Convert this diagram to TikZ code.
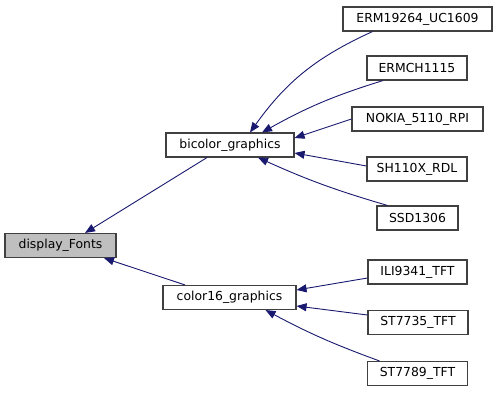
\documentclass[tikz,border=0pt]{standalone}
\usepackage{fontspec}
\setmainfont{DejaVu Sans}
\usetikzlibrary{arrows.meta}

\definecolor{edgeblue}{HTML}{191970}
\definecolor{basegray}{HTML}{BFBFBF}
\definecolor{boxline}{HTML}{404040}

\tikzset{
	cls/.style={draw=boxline, line width=1.1pt, fill=white, minimum height=24pt,
		inner sep=0pt, font=\fontsize{12.4}{15}\selectfont},
	inh/.style={edgeblue, line width=0.9pt, {Triangle[length=10pt, width=8pt]}-}
}

\begin{document}
\begin{tikzpicture}[x=1pt, y=-1pt]
	\useasboundingbox (0,0) rectangle (499,392);

	% classes
	\node[cls, fill=basegray, minimum width=111pt] (fonts) at (60.5,245.5) {display\_Fonts};
	\node[cls, minimum width=128pt] (bicolor) at (230,145) {bicolor\_graphics};
	\node[cls, minimum width=133pt] (color16) at (229.5,297.5) {color16\_graphics};

	\node[cls, minimum width=149pt] (erm) at (417.5,19) {ERM19264\_UC1609};
	\node[cls, minimum width=100pt] (ermch) at (417,68) {ERMCH1115};
	\node[cls, minimum width=131pt] (nokia) at (417.5,119) {NOKIA\_5110\_RPI};
	\node[cls, minimum width=100pt] (sh110x) at (417,169) {SH110X\_RDL};
	\node[cls, minimum width=81pt] (ssd) at (417.5,218) {SSD1306};

	\node[cls, minimum width=99pt] (ili) at (417.5,272) {ILI9341\_TFT};
	\node[cls, minimum width=100pt] (st7735) at (418,322.5) {ST7735\_TFT};
	\node[cls, minimum width=100pt] (st7789) at (417.5,373.5) {ST7789\_TFT};

	% inheritance
	\draw[inh] ([xshift=24.5pt]fonts.north) -- ([xshift=-23pt]bicolor.south);
	\draw[inh] ([xshift=43.5pt]fonts.south) -- ([xshift=-44.5pt]color16.north);

	\draw[inh] ([xshift=20pt]bicolor.north) to[bend left=15] ([xshift=-45pt]erm.south);
	\draw[inh] ([xshift=32pt]bicolor.north) to[bend left=6] ([xshift=-34pt]ermch.south);
	\draw[inh] ([yshift=7pt]bicolor.east) -- (nokia.west);
	\draw[inh] ([yshift=-8pt]bicolor.east) -- ([yshift=3pt]sh110x.west);
	\draw[inh] ([xshift=28pt]bicolor.south) to[bend right=4] ([xshift=-30pt]ssd.north);

	\draw[inh] ([yshift=7.5pt]color16.east) -- ([yshift=-6pt]ili.west);
	\draw[inh] ([yshift=-8.5pt]color16.east) -- ([yshift=7.5pt]st7735.west);
	\draw[inh] ([xshift=36pt]color16.south) to[bend right=4] ([xshift=-38pt]st7789.north);
\end{tikzpicture}
\end{document}
